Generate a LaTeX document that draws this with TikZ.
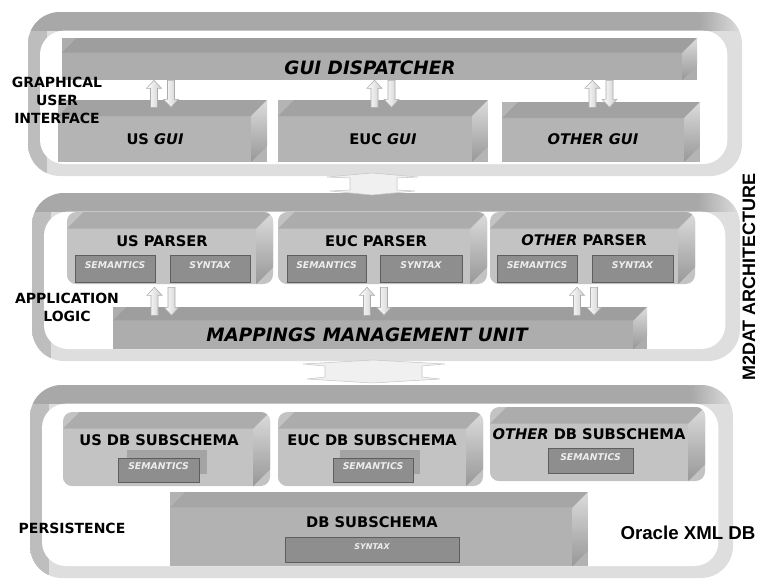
\documentclass[tikz,border=0pt]{standalone}
\usepackage{fontspec}
\setmainfont{DejaVu Sans}
\newfontfamily\headfont{Liberation Sans}
\usetikzlibrary{calc,fit}

% palette
\definecolor{framelight}{HTML}{DEDEDE}
\definecolor{frameedge}{HTML}{BDBDBD}
\definecolor{bandgray}{HTML}{A8A8A8}
\definecolor{gtop}{HTML}{A2A2A2}
\definecolor{gfront}{HTML}{B4B4B4}
\definecolor{disptop}{HTML}{9E9E9E}
\definecolor{dispfront}{HTML}{ADADAD}
\definecolor{ptop}{HTML}{ACACAC}
\definecolor{pfront}{HTML}{C3C3C3}
\definecolor{dtop}{HTML}{A6A6A6}
\definecolor{dfront}{HTML}{B2B2B2}
\definecolor{sidetop}{HTML}{DCDCDC}
\definecolor{sidebot}{HTML}{989898}
\definecolor{tagfill}{HTML}{8E8E8E}
\definecolor{tagedge}{HTML}{5E5E5E}
\definecolor{tagshadow}{HTML}{A4A4A4}
\definecolor{tagtext}{HTML}{EDEDED}

\newcommand\ppb{path picture bounding box}

\tikzset{
  bev d/.store in=\bevd, bev d=12pt,
  bev top/.store in=\bevtop, bev top=gtop,
  bev front/.store in=\bevfront, bev front=gfront,
  % a bevelled block: front face, top face and a shaded right face
  bevel/.style={inner sep=0pt, path picture={
      \fill[sharp corners, \bevfront] ($(\ppb.north west)+(0pt,-\bevd)$) rectangle ($(\ppb.south east)+(-\bevd,0pt)$);
      \fill[sharp corners, \bevtop] ($(\ppb.north west)+(0pt,-\bevd)$) -- ($(\ppb.north west)+(\bevd,0pt)$)
           -- (\ppb.north east) -- ($(\ppb.north east)+(-\bevd,-\bevd)$) -- cycle;
      \shade[sharp corners, top color=sidetop, bottom color=sidebot]
           ($(\ppb.north east)+(-\bevd,-\bevd)$) -- (\ppb.north east)
           -- ($(\ppb.south east)+(0pt,\bevd)$) -- ($(\ppb.south east)+(-\bevd,0pt)$) -- cycle;
  }},
  guibox/.style={bevel, fill=gfront, bev top=gtop, bev front=gfront},
  dispbox/.style={bevel, fill=dispfront, bev top=disptop, bev front=dispfront, bev d=11pt},
  parserbox/.style={bevel, rounded corners=7pt, fill=pfront, bev top=ptop, bev front=pfront, bev d=12.5pt},
  dbbox/.style={bevel, fill=dfront, bev top=dtop, bev front=dfront, bev d=11.5pt},
  % rounded tier frame with darker top band and white interior
  layer/.style={inner sep=0pt, rounded corners=24pt, fill=framelight, path picture={
      \shade[sharp corners, left color=frameedge, right color=framelight]
           (\ppb.north west) rectangle ($(\ppb.south west)+(14pt,0pt)$);
      \fill[sharp corners, bandgray] (\ppb.north west) rectangle ($(\ppb.north east)+(-32pt,-14pt)$);
      \shade[sharp corners, left color=bandgray, right color=framelight]
           ($(\ppb.north east)+(-32pt,0pt)$) rectangle ($(\ppb.north east)+(0pt,-14pt)$);
      \fill[white, rounded corners=18pt] ($(\ppb.north west)+(9pt,-14pt)$) rectangle ($(\ppb.south east)+(-11pt,9pt)$);
  }},
  tag/.style={inner sep=0pt, fill=tagfill, draw=tagedge, line width=0.7pt,
      text=tagtext, font=\bfseries\itshape\fontsize{7}{8}\selectfont},
  tagback/.style={inner sep=0pt, fill=tagshadow},
  lab/.style={inner sep=0pt, font=\bfseries\fontsize{11}{13}\selectfont},
  biglab/.style={inner sep=0pt, font=\bfseries\itshape\fontsize{13.8}{16}\selectfont},
  tierlab/.style={inner sep=0pt, align=center, font=\bfseries\fontsize{10.5}{13.5}\selectfont},
  arrowbody/.style={left color=white, right color=gray!40, draw=gray!65, line width=0.4pt},
  flatarrow/.style={fill=gray!12, draw=gray!45, line width=0.4pt},
  pics/updown/.style={code={
      \path[arrowbody] (-12,#1) -- (-12,8) -- (-16,8) -- (-8.5,0) -- (-1,8) -- (-5,8) -- (-5,#1) -- cycle;
      \path[arrowbody] (5,0) -- (12,0) -- (12,#1-8) -- (16,#1-8) -- (8.5,#1) -- (1,#1-8) -- (5,#1-8) -- cycle;
  }},
}

\begin{document}
\begin{tikzpicture}[x=0.75pt, y=-0.75pt]
\useasboundingbox (0,0) rectangle (760,582);

% ---------- tiers ----------
\node[layer, fit={(28,12) (742,176)}] (guilayer) {};
\node[layer, fit={(32,193) (740,361)}] (applayer) {};
\node[layer, fit={(30,385) (733,578)}] (dblayer) {};

% ---------- graphical user interface ----------
\node[dispbox, fit={(62,38) (697,80)}] (dispatcher) {};
\node[biglab] (disptext) at (370,68) {GUI DISPATCHER};

\node[guibox, fit={(58,100) (267,162)}] (usgui) {};
\node[guibox, fit={(278,100) (488,162)}] (eucgui) {};
\node[guibox, fit={(502,102) (700,162)}] (othergui) {};
\node[lab] (usguitext) at (155,139) {US \textit{GUI}};
\node[lab] (eucguitext) at (383,139) {EUC \textit{GUI}};
\node[lab] (otherguitext) at (593,139) {\textit{OTHER GUI}};

\pic at (dispatcher.south -| usgui.north) {updown=27};
\pic at (dispatcher.south -| eucgui.north) {updown=27};
\pic at (dispatcher.south -| othergui.north) {updown=27};

% ---------- application logic ----------
\node[parserbox, fit={(67,212) (273,284)}] (usparser) {};
\node[parserbox, fit={(278,212) (487,284)}] (eucparser) {};
\node[parserbox, fit={(490,212) (695,284)}] (otherparser) {};
\node[lab] (usparsertext) at (162,241) {US PARSER};
\node[lab] (eucparsertext) at (376,241) {EUC PARSER};
\node[lab] (otherparsertext) at (584,240) {\textit{OTHER} PARSER};

\node[tag, fit={(75,255) (155,282)}] (ussem) {SEMANTICS};
\node[tag, fit={(170,255) (250,282)}] (ussyn) {SYNTAX};
\node[tag, fit={(287,255) (366,282)}] (eucsem) {SEMANTICS};
\node[tag, fit={(380,255) (462,282)}] (eucsyn) {SYNTAX};
\node[tag, fit={(497,255) (577,282)}] (othersem) {SEMANTICS};
\node[tag, fit={(592,255) (673,282)}] (othersyn) {SYNTAX};

\node[dispbox, bev d=10pt, fit={(113,307) (647,349)}] (mmu) {};
\node[biglab] (mmutext) at (367,335) {MAPPINGS MANAGEMENT UNIT};

\pic at ($(usparser.south)+(-7,3)$) {updown=28};
\pic at ($(eucparser.south)+(-7,3)$) {updown=28};
\pic at ($(otherparser.south)+(-7,3)$) {updown=28};

% ---------- persistence ----------
\node[parserbox, fit={(63,412) (270,486)}] (usdb) {};
\node[parserbox, fit={(278,412) (483,486)}] (eucdb) {};
\node[parserbox, fit={(490,407) (705,481)}] (otherdb) {};
\node[lab] (usdbtext) at (159,440) {US DB SUBSCHEMA};
\node[lab] (eucdbtext) at (372,440) {EUC DB SUBSCHEMA};
\node[lab] (otherdbtext) at (589,434) {\textit{OTHER} DB SUBSCHEMA};

\node[tagback, fit={(127,450) (207,474)}] (usdbback) {};
\node[tag, fit={(118,458) (199,482)}] (usdbsem) {SEMANTICS};
\node[tagback, fit={(340,450) (420,474)}] (eucdbback) {};
\node[tag, fit={(333,458) (413,482)}] (eucdbsem) {SEMANTICS};
\node[tag, fit={(548,448) (633,473)}] (otherdbsem) {SEMANTICS};

\node[dbbox, fit={(170,492) (588,566)}] (dbsub) {};
\node[lab] (dbsubtext) at (372,522) {DB SUBSCHEMA};
\node[tag, font=\bfseries\itshape\fontsize{6}{7}\selectfont, fit={(285,537) (459,562)}] (dbsyn) {SYNTAX};

% ---------- flat arrows between tiers ----------
\path[flatarrow] (372,173) -- (418,177) -- (397,178) -- (397,190) -- (415,191) -- (372,195)
   -- (330,191) -- (350,190) -- (350,178) -- (327,177) -- cycle;
\path[flatarrow] (373,360) -- (445,364) -- (422,366) -- (422,377) -- (440,379) -- (373,383)
   -- (307,379) -- (325,377) -- (325,366) -- (303,364) -- cycle;

% ---------- tier captions ----------
\node[tierlab] (guicap) at (57,100) {GRAPHICAL\\USER\\INTERFACE};
\node[tierlab] (appcap) at (67,307) {APPLICATION\\LOGIC};
\node[tierlab] (dbcap) at (72,528) {PERSISTENCE};
\node[inner sep=0pt, font=\headfont\bfseries\fontsize{14}{16}\selectfont] (oracle) at (688,533) {Oracle XML DB};
\node[inner sep=0pt, rotate=90, font=\headfont\bfseries\fontsize{13.5}{16}\selectfont] (m2dat) at (749,277) {M2DAT ARCHITECTURE};
\end{tikzpicture}
\end{document}
